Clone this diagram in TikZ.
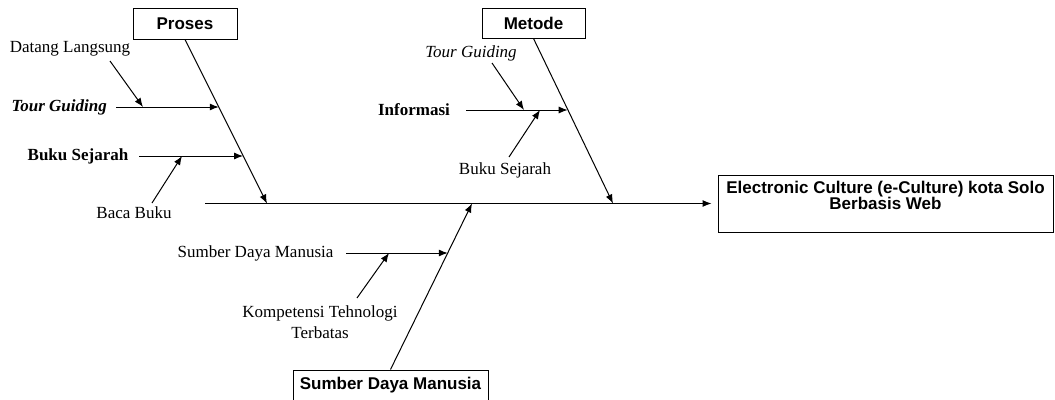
\documentclass[tikz,border=0pt]{standalone}
\usepackage{fontspec}
\setmainfont{Liberation Serif}
\newfontfamily\arialf{Liberation Sans}
\usetikzlibrary{arrows.meta}
\begin{document}
\begin{tikzpicture}[x=1pt,y=-1pt,
  txt/.style={inner sep=0pt, font=\fontsize{17}{21}\selectfont},
  cat/.style={draw, line width=1pt, inner sep=0pt, font=\arialf\bfseries\fontsize{17}{20}\selectfont},
  arr/.style={line width=1pt, -{Latex[length=9pt,width=7pt]}},
]
\useasboundingbox (0,0) rectangle (1055,399);
\clip (0,0) rectangle (1055,399);

% category boxes
\node[cat, minimum width=104pt, minimum height=31pt] (proses) at (185,23.5) {Proses};
\node[cat, minimum width=103pt, minimum height=30pt] (metode) at (533.5,23) {Metode};
\node[cat, minimum width=195pt, minimum height=30pt] (sdmbox) at (390.5,385) {Sumber Daya Manusia};
\node[cat, minimum width=335pt, minimum height=57pt] (goal) at (885.5,203.5) {};
\node[txt, font=\arialf\bfseries\fontsize{17}{16}\selectfont, align=center] (goalt) at (885.5,195.5) {Electronic Culture (e-Culture) kota Solo\\Berbasis Web};

% spine
\coordinate (s0) at (205,203.5);
\draw[arr, shorten >=6pt] (s0) -- (s0 -| goal.west);

% joints on spine
\coordinate (jp) at (267,203.5);
\coordinate (jm) at (613,203.5);
\coordinate (js) at (472,203.5);

% bones
\draw[arr] (proses.south) -- (jp);
\draw[arr] (metode.south) -- (jm);
\draw[arr] (sdmbox.north) -- (js);

% texts
\node[txt] (dl) at (70,49) {Datang Langsung};
\node[txt, anchor=east] (tg1) at (107,107) {\textbf{\textit{Tour Guiding}}};
\node[txt] (bs1) at (78,156) {\textbf{Buku Sejarah}};
\node[txt] (bb) at (134,213) {Baca Buku};
\node[txt] (tg2) at (471,53) {\textit{Tour Guiding}};
\node[txt] (inf) at (414,110) {\textbf{Informasi}};
\node[txt] (bs2) at (505,170) {Buku Sejarah};
\node[txt] (sdm) at (255.5,253) {Sumber Daya Manusia};
\node[txt, align=center] (komp) at (320,322.5) {Kompetensi Tehnologi\\Terbatas};

% branches
\coordinate (tg1s) at (116,107);   \coordinate (tg1e) at (218.8,107);
\coordinate (bs1s) at (139,156);   \coordinate (bs1e) at (243.1,156);
\coordinate (infs) at (466,110);   \coordinate (infe) at (567.7,110);
\coordinate (sdms) at (346,253);   \coordinate (sdme) at (447.8,253);
\draw[arr] (tg1s) -- (tg1e);
\draw[arr] (bs1s) -- (bs1e);
\draw[arr] (infs) -- (infe);
\draw[arr] (sdms) -- (sdme);

% sub-branches
\coordinate (dls) at (110,61);    \coordinate (dle) at (143,107);
\coordinate (bbs) at (152,203);   \coordinate (bbe) at (182,156);
\coordinate (tg2s) at (492,63);   \coordinate (tg2e) at (524,110);
\coordinate (bs2s) at (509,157);  \coordinate (bs2e) at (540,110);
\coordinate (komps) at (357,298); \coordinate (kompe) at (389,253);
\draw[arr] (dls) -- (dle);
\draw[arr] (bbs) -- (bbe);
\draw[arr] (tg2s) -- (tg2e);
\draw[arr] (bs2s) -- (bs2e);
\draw[arr] (komps) -- (kompe);
\end{tikzpicture}
\end{document}
